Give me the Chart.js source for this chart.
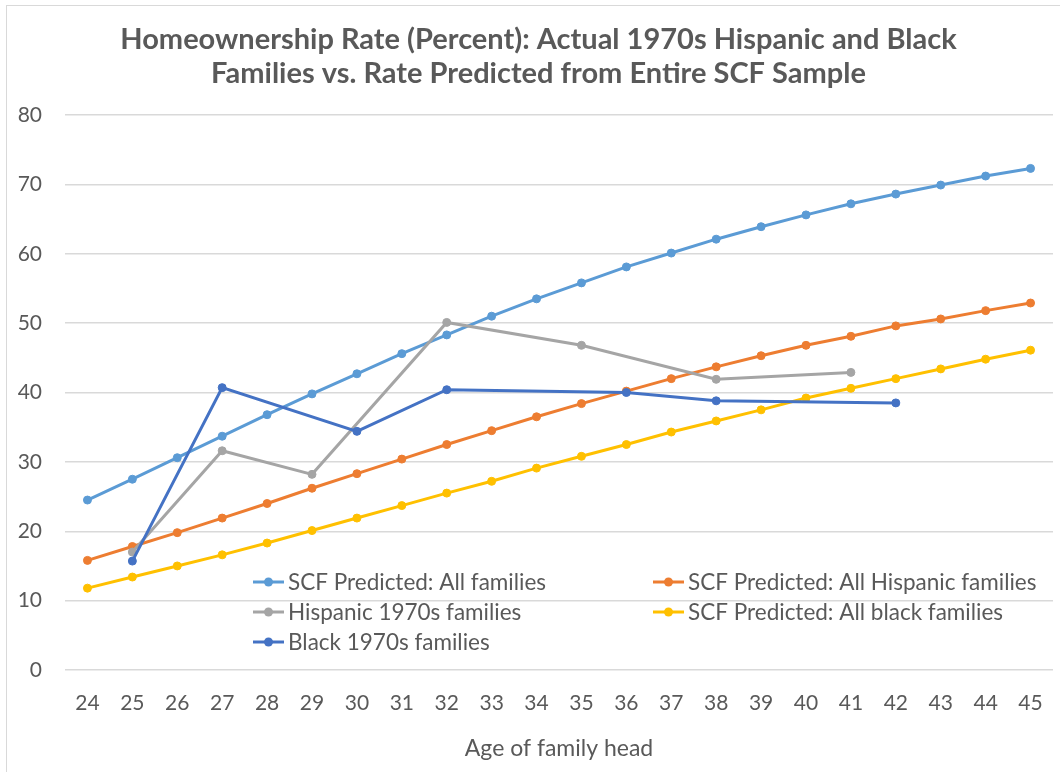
<!DOCTYPE html>
<html lang="en">
<head>
<meta charset="UTF-8">
<title>Homeownership Rate (Percent)</title>
<script src="https://cdnjs.cloudflare.com/ajax/libs/Chart.js/4.4.1/chart.umd.min.js"></script>
<style>
    body { margin: 0; background: #fff; overflow: hidden; }
    .chart-wrapper { position: relative; width: 1060px; height: 772px; overflow: hidden; }
    .frame {
        position: absolute; left: 6px; top: 5px; width: 1100px; height: 800px;
        border: 1px solid #d9d9d9; pointer-events: none;
    }
</style>
</head>
<body>
<div class="chart-wrapper">
    <canvas id="ownChart" width="1060" height="772"></canvas>
    <div class="frame"></div>
</div>
<script>
// Age of family head (x categories)
const ages = ['24', '25', '26', '27', '28', '29', '30', '31', '32', '33', '34',
              '35', '36', '37', '38', '39', '40', '41', '42', '43', '44', '45'];

// Homeownership rate, percent
const allFamilies = [24.5, 27.5, 30.6, 33.7, 36.8, 39.8, 42.7, 45.6, 48.3, 51.0, 53.5,
                     55.8, 58.1, 60.1, 62.1, 63.9, 65.6, 67.2, 68.6, 69.9, 71.2, 72.3];
const hispanicPredicted = [15.8, 17.8, 19.8, 21.9, 24.0, 26.2, 28.3, 30.4, 32.5, 34.5, 36.5,
                           38.4, 40.2, 42.0, 43.7, 45.3, 46.8, 48.1, 49.6, 50.6, 51.8, 52.9];
const hispanic1970s = [null, 17.0, null, 31.6, null, 28.2, null, null, 50.1, null, null,
                       46.8, null, null, 41.9, null, null, 42.9, null, null, null, null];
const blackPredicted = [11.8, 13.4, 15.0, 16.6, 18.3, 20.1, 21.9, 23.7, 25.5, 27.2, 29.1,
                        30.8, 32.5, 34.3, 35.9, 37.5, 39.2, 40.6, 42.0, 43.4, 44.8, 46.1];
const black1970s = [null, 15.7, null, 40.7, null, null, 34.4, null, 40.4, null, null,
                    null, 40.0, null, 38.8, null, null, null, 38.5, null, null, null];

const seriesNames = ['SCF Predicted: All families', 'SCF Predicted: All Hispanic families',
                     'Hispanic 1970s families', 'SCF Predicted: All black families',
                     'Black 1970s families'];
const seriesColors = ['#5B9BD5', '#ED7D31', '#A5A5A5', '#FFC000', '#4472C4'];
const seriesValues = [allFamilies, hispanicPredicted, hispanic1970s, blackPredicted, black1970s];

const FONT = 'Lato, "Open Sans", sans-serif';
const TEXT_COLOR = '#595959';

// Legend drawn inside the plot area, two columns like the original
const insideLegend = {
    id: 'insideLegend',
    afterLayout(chart) {
        // nudge the title a little to the right, it sits off-centre in the original
        if (chart.titleBlock) chart.titleBlock.left += 24;
    },
    afterDraw(chart) {
        const ctx = chart.ctx;
        const colX = [253, 653];
        const rowY = [582, 612, 642];
        ctx.save();
        ctx.font = '22.5px ' + FONT;
        ctx.textBaseline = 'middle';
        ctx.textAlign = 'left';
        chart.data.datasets.forEach((ds, i) => {
            const x = colX[i % 2];
            const y = rowY[Math.floor(i / 2)];
            ctx.strokeStyle = ds.borderColor;
            ctx.lineWidth = 3;
            ctx.beginPath();
            ctx.moveTo(x, y);
            ctx.lineTo(x + 31, y);
            ctx.stroke();
            ctx.fillStyle = ds.borderColor;
            ctx.beginPath();
            ctx.arc(x + 15.5, y, 4.5, 0, Math.PI * 2);
            ctx.fill();
            ctx.fillStyle = TEXT_COLOR;
            ctx.fillText(ds.label, x + 35, y + 1);
        });
        ctx.restore();
    }
};

const datasets = seriesNames.map((name, i) => ({
    label: name,
    data: seriesValues[i],
    borderColor: seriesColors[i],
    backgroundColor: seriesColors[i],
    pointBackgroundColor: seriesColors[i],
    pointBorderColor: seriesColors[i],
    borderWidth: 3,
    pointRadius: 4,
    pointBorderWidth: 1,
    spanGaps: true,
    tension: 0,
    order: seriesNames.length - i
}));

new Chart(document.getElementById('ownChart'), {
    type: 'line',
    data: { labels: ages, datasets: datasets },
    options: {
        responsive: false,
        animation: false,
        devicePixelRatio: 1,
        layout: { padding: { left: 0, right: 7, top: 0, bottom: 0 } },
        plugins: {
            legend: { display: false },
            tooltip: { enabled: false },
            title: {
                display: true,
                text: ['Homeownership Rate (Percent): Actual 1970s Hispanic and Black',
                       'Families vs. Rate Predicted from Entire SCF Sample'],
                color: TEXT_COLOR,
                font: { family: FONT, size: 29, weight: 'bold', lineHeight: 34 / 29 },
                padding: { top: 23, bottom: 24 }
            }
        },
        scales: {
            x: {
                offset: true,
                grid: { display: false },
                border: { display: false },
                ticks: { color: TEXT_COLOR, font: { family: FONT, size: 21 }, padding: 13, maxRotation: 0 },
                title: {
                    display: true,
                    text: 'Age of family head',
                    color: TEXT_COLOR,
                    font: { family: FONT, size: 23 },
                    padding: { top: 0, bottom: 10 }
                },
                afterFit(scale) { scale.height = 102; }
            },
            y: {
                min: 0,
                max: 80,
                ticks: { stepSize: 10, color: TEXT_COLOR, font: { family: FONT, size: 21 }, padding: 23 },
                grid: { color: '#d9d9d9', lineWidth: 1.5, drawTicks: false },
                border: { display: false },
                afterFit(scale) { scale.width = 65; }
            }
        }
    },
    plugins: [insideLegend]
});
</script>
</body>
</html>
